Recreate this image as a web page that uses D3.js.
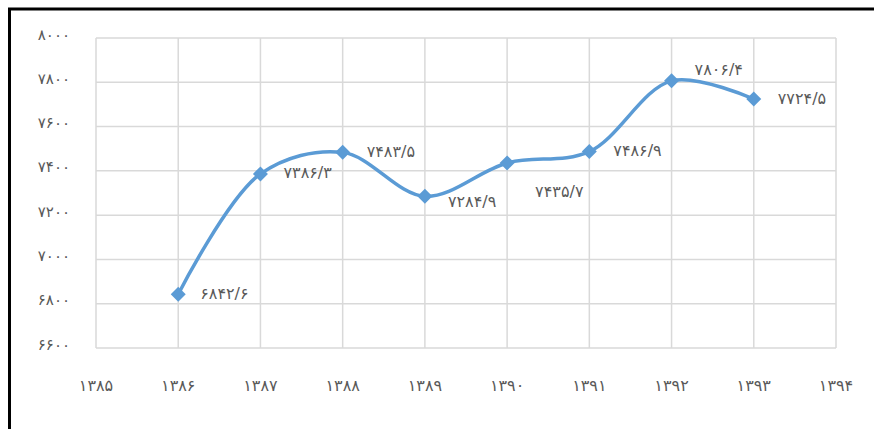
<!DOCTYPE html>
<html>
<head>
<meta charset="utf-8">
<script src="https://cdn.jsdelivr.net/npm/d3@7"></script>
<style>
html,body{margin:0;padding:0;background:#fff;}
svg{display:block;}
text{font-family:"DejaVu Sans","Noto Sans",sans-serif;fill:#595959;}
</style>
</head>
<body>
<svg id="chart" width="874" height="429"></svg>
<script>
const years = [1386, 1387, 1388, 1389, 1390, 1391, 1392, 1393];
const values = [6842.6, 7386.3, 7483.5, 7284.9, 7435.7, 7486.9, 7806.4, 7724.5];
const valueLabels = ["۶۸۴۲/۶", "۷۳۸۶/۳", "۷۴۸۳/۵", "۷۲۸۴/۹", "۷۴۳۵/۷", "۷۴۸۶/۹", "۷۸۰۶/۴", "۷۷۲۴/۵"];
const xTicks = [1385, 1386, 1387, 1388, 1389, 1390, 1391, 1392, 1393, 1394];
const xTickLabels = ["۱۳۸۵", "۱۳۸۶", "۱۳۸۷", "۱۳۸۸", "۱۳۸۹", "۱۳۹۰", "۱۳۹۱", "۱۳۹۲", "۱۳۹۳", "۱۳۹۴"];
const yTicks = [6600, 6800, 7000, 7200, 7400, 7600, 7800, 8000];
const yTickLabels = ["۶۶۰۰", "۶۸۰۰", "۷۰۰۰", "۷۲۰۰", "۷۴۰۰", "۷۶۰۰", "۷۸۰۰", "۸۰۰۰"];
// label placement offsets (dx, dy) relative to point
const labelOffsets = [[22,0],[23,0],[24,0],[23,6],[28,30],[24,0],[23,-10],[24,0]];

const svg = d3.select("#chart");
const x = d3.scaleLinear().domain([1385, 1394]).range([96, 836]);
const y = d3.scaleLinear().domain([6600, 8000]).range([348, 38]);

// outer frame
svg.append("rect").attr("x", 9.5).attr("y", 9).attr("width", 900).attr("height", 500)
  .attr("fill", "none").attr("stroke", "#000").attr("stroke-width", 3);

// gridlines
const grid = svg.append("g");
grid.selectAll("line.h").data(yTicks).join("line")
  .attr("x1", x(1385)).attr("x2", x(1394))
  .attr("y1", d => y(d)).attr("y2", d => y(d))
  .attr("stroke", "#d9d9d9").attr("stroke-width", 1.5);
grid.selectAll("line.v").data(xTicks).join("line")
  .attr("y1", y(8000)).attr("y2", y(6600))
  .attr("x1", d => x(d)).attr("x2", d => x(d))
  .attr("stroke", "#d9d9d9").attr("stroke-width", 1.5);

// y axis labels
svg.append("g").selectAll("text").data(yTicks).join("text")
  .attr("x", 70).attr("y", d => y(d) - 3)
  .attr("text-anchor", "end").attr("dominant-baseline", "middle")
  .attr("font-size", 15)
  .text((d, i) => yTickLabels[i]);

// x axis labels
svg.append("g").selectAll("text").data(xTicks).join("text")
  .attr("x", d => x(d)).attr("y", 386)
  .attr("text-anchor", "middle").attr("dominant-baseline", "middle")
  .attr("font-size", 16)
  .text((d, i) => xTickLabels[i]);

// line
const pts = years.map((yr, i) => [x(yr), y(values[i])]);
svg.append("path")
  .attr("d", d3.line().curve(d3.curveCatmullRom.alpha(0.5))(pts))
  .attr("fill", "none").attr("stroke", "#5b9bd5").attr("stroke-width", 3.5)
  .attr("stroke-linecap", "round");

// markers
const r = 7.5;
svg.append("g").selectAll("path").data(pts).join("path")
  .attr("d", d => `M${d[0]},${d[1]-r}L${d[0]+r},${d[1]}L${d[0]},${d[1]+r}L${d[0]-r},${d[1]}Z`)
  .attr("fill", "#5b9bd5");

// data labels
svg.append("g").selectAll("text").data(pts).join("text")
  .attr("x", (d, i) => d[0] + labelOffsets[i][0])
  .attr("y", (d, i) => d[1] + labelOffsets[i][1])
  .attr("dominant-baseline", "middle")
  .attr("font-size", 16)
  .text((d, i) => valueLabels[i]);
</script>
</body>
</html>
